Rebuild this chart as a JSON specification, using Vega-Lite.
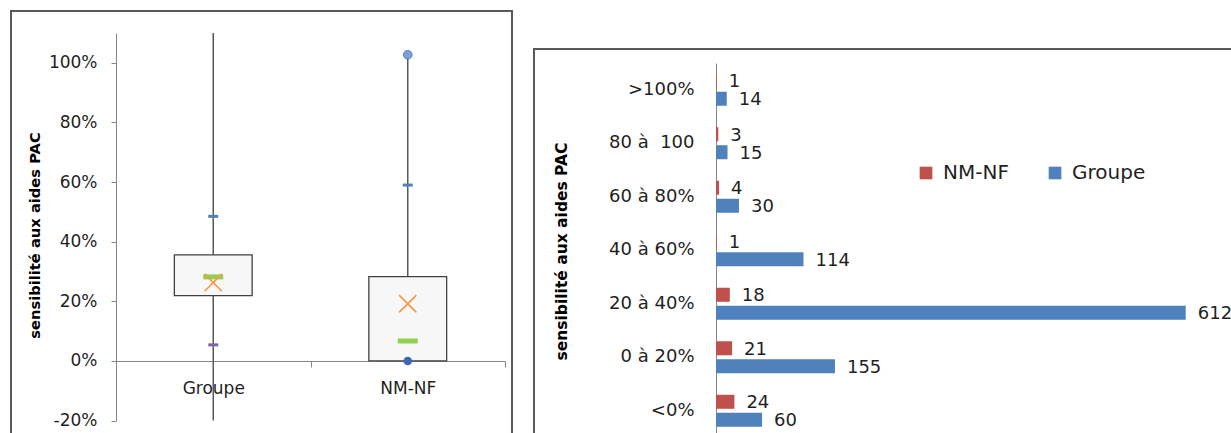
{
  "$schema": "https://vega.github.io/schema/vega-lite/v6.json",
  "padding": {"left": 10, "top": 10, "right": 0, "bottom": 0},
  "background": "white",
  "spacing": 20,
  "config": {
    "font": "DejaVu Sans",
    "view": {"stroke": "#595959", "strokeWidth": 2},
    "axis": {"labelFont": "DejaVu Sans", "labelColor": "#1f1f1f", "domainColor": "#868686", "tickColor": "#868686", "grid": false, "titleColor": "#000000", "titleFont": "DejaVu Sans"}
  },
  "hconcat": [
    {
      "width": 501,
      "height": 431,
      "data": {"values": [
        {"groupe": "Groupe", "bas": -0.2, "haut": 1.1, "q1": 0.219, "q3": 0.356, "mediane": 0.282, "moyenne": 0.263, "p90": 0.485, "p10": 0.054, "min": null, "max": null},
        {"groupe": "NM-NF", "bas": 0, "haut": 1.027, "q1": 0, "q3": 0.283, "mediane": 0.067, "moyenne": 0.192, "p90": 0.59, "p10": null, "min": 0, "max": 1.027}
      ]},
      "encoding": {
        "x": {
          "field": "groupe", "type": "nominal",
          "scale": {"domain": ["Groupe", "NM-NF"], "range": [105, 494], "paddingInner": 0, "paddingOuter": 0},
          "axis": {"orient": "bottom", "offset": -81, "title": null, "tickBand": "extent", "tickSize": 6, "labelPadding": 13, "labelFontSize": 17, "labelAngle": 0, "labelBaseline": "top"}
        }
      },
      "layer": [
        {
          "mark": {"type": "rule", "color": "#595959", "strokeWidth": 1.5},
          "encoding": {
            "y": {
              "field": "bas", "type": "quantitative",
              "scale": {"domain": [-0.2, 1.1], "range": [409.6, 22], "nice": false, "zero": false},
              "axis": {"offset": -105, "values": [-0.2, 0, 0.2, 0.4, 0.6, 0.8, 1.0], "format": ".0%", "labelExpr": "replace(datum.label, '−', '-')", "tickSize": 5, "labelPadding": 14, "labelFontSize": 17, "title": "sensibilité aux aides PAC", "titleFontWeight": "bold", "titleFontSize": 14.7, "titleX": -81, "titleY": 224, "titleAngle": -90, "titleAlign": "center", "titleBaseline": "middle"}
            },
            "y2": {"field": "haut"}
          }
        },
        {
          "mark": {"type": "bar", "fill": "#f7f7f7", "stroke": "#404040", "strokeWidth": 1.3, "width": {"band": 0.4}},
          "encoding": {"y": {"field": "q1", "type": "quantitative"}, "y2": {"field": "q3"}}
        },
        {
          "mark": {"type": "tick", "color": "#92d050", "size": 20, "thickness": 5, "opacity": 1},
          "encoding": {"y": {"field": "mediane", "type": "quantitative"}}
        },
        {
          "mark": {"type": "point", "shape": "M-1,-1L1,1M1,-1L-1,1", "filled": false, "stroke": "#f79646", "strokeWidth": 1.6, "size": 300, "opacity": 1},
          "encoding": {"y": {"field": "moyenne", "type": "quantitative"}}
        },
        {
          "mark": {"type": "tick", "color": "#4f81bd", "size": 10, "thickness": 3, "opacity": 1},
          "encoding": {"y": {"field": "p90", "type": "quantitative"}}
        },
        {
          "mark": {"type": "tick", "color": "#8064a2", "size": 10, "thickness": 3, "opacity": 1},
          "encoding": {"y": {"field": "p10", "type": "quantitative"}}
        },
        {
          "mark": {"type": "point", "filled": true, "fill": "#7f9fd6", "stroke": "#4f81bd", "strokeWidth": 1, "size": 75, "opacity": 1},
          "encoding": {"y": {"field": "max", "type": "quantitative"}}
        },
        {
          "mark": {"type": "point", "filled": true, "fill": "#3c69b0", "size": 75, "opacity": 1},
          "encoding": {"y": {"field": "min", "type": "quantitative"}}
        }
      ]
    },
    {
      "spacing": 0,
      "vconcat": [
        {
          "width": 705,
          "height": 37,
          "view": {"stroke": null},
          "data": {"values": []},
          "mark": {"type": "text"}
        },
        {
          "width": 705,
          "height": 394,
          "data": {"values": [
            {"classe": ">100%", "serie": "NM-NF", "effectif": 1},
            {"classe": ">100%", "serie": "Groupe", "effectif": 14},
            {"classe": "80 à  100", "serie": "NM-NF", "effectif": 3},
            {"classe": "80 à  100", "serie": "Groupe", "effectif": 15},
            {"classe": "60 à 80%", "serie": "NM-NF", "effectif": 4},
            {"classe": "60 à 80%", "serie": "Groupe", "effectif": 30},
            {"classe": "40 à 60%", "serie": "NM-NF", "effectif": 1},
            {"classe": "40 à 60%", "serie": "Groupe", "effectif": 114},
            {"classe": "20 à 40%", "serie": "NM-NF", "effectif": 18},
            {"classe": "20 à 40%", "serie": "Groupe", "effectif": 612},
            {"classe": "0 à 20%", "serie": "NM-NF", "effectif": 21},
            {"classe": "0 à 20%", "serie": "Groupe", "effectif": 155},
            {"classe": "<0%", "serie": "NM-NF", "effectif": 24},
            {"classe": "<0%", "serie": "Groupe", "effectif": 60}
          ]},
          "encoding": {
            "y": {
              "field": "classe", "type": "nominal",
              "sort": [">100%", "80 à  100", "60 à 80%", "40 à 60%", "20 à 40%", "0 à 20%", "<0%"],
              "scale": {"range": [14, 388.5], "paddingInner": 0.402, "paddingOuter": 0.201},
              "axis": {"offset": -182, "title": "sensibilité aux aides PAC", "titleFontWeight": "bold", "titleFontSize": 15.5, "titleX": -155, "titleY": 202, "titleAngle": -90, "titleAlign": "center", "titleBaseline": "middle", "ticks": false, "labelPadding": 22, "labelFontSize": 18, "labelExpr": "replace(datum.label, '  ', '\u00a0\u00a0')"}
            },
            "yOffset": {"field": "serie", "type": "nominal", "sort": ["NM-NF", "Groupe"], "scale": {"paddingInner": 0.22, "paddingOuter": 0}},
            "x": {"field": "effectif", "type": "quantitative", "scale": {"domain": [0, 681.4], "range": [182, 705], "nice": false}, "axis": null}
          },
          "layer": [
            {
              "mark": {"type": "bar"},
              "encoding": {
                "color": {
                  "field": "serie", "type": "nominal",
                  "scale": {"domain": ["NM-NF", "Groupe"], "range": ["#c0504d", "#4f81bd"]},
                  "legend": {"orient": "none", "legendX": 905, "legendY": 152, "direction": "horizontal", "title": null, "symbolType": "square", "symbolSize": 160, "labelFontSize": 20, "labelFont": "DejaVu Sans", "labelColor": "#1f1f1f", "columnPadding": 36, "labelOffset": 7, "symbolStrokeWidth": 0, "symbolOpacity": 1}
                }
              }
            },
            {
              "mark": {"type": "text", "align": "left", "baseline": "middle", "dx": 12, "dy": 1.5, "fontSize": 18, "color": "#1f1f1f"},
              "encoding": {"text": {"field": "effectif", "type": "quantitative"}}
            }
          ]
        }
      ]
    }
  ]
}
